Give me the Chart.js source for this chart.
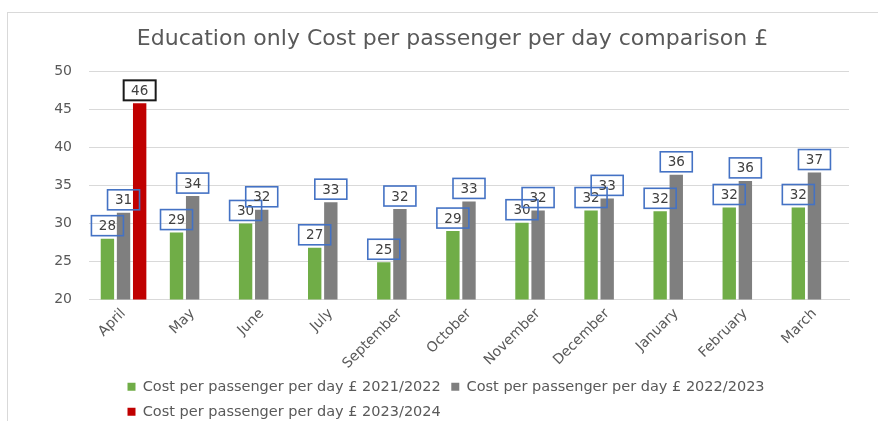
<!DOCTYPE html>
<html>
<head>
<meta charset="utf-8">
<script src="https://cdn.jsdelivr.net/npm/chart.js@4.4.1/dist/chart.umd.min.js"></script>
<style>
  body { margin: 0; overflow: hidden; background: #fff; }
  #wrap { position: relative; width: 878px; height: 421px; overflow: hidden; }
  #frame { position: absolute; left: 7px; top: 12px; width: 900px; height: 430px; border: 1px solid #d9d9d9; pointer-events: none; }
  canvas { position: absolute; left: 0; top: 0; }
</style>
</head>
<body>
<div id="wrap">
  <div id="frame"></div>
  <canvas id="chart" width="878" height="429"></canvas>
</div>
<script>
// values
const months = ['April', 'May', 'June', 'July', 'September', 'October', 'November', 'December', 'January', 'February', 'March'];
const fy2122 = [28.0, 28.8, 30.0, 26.8, 24.9, 29.0, 30.1, 31.7, 31.6, 32.1, 32.1];
const fy2223 = [31.4, 33.6, 31.8, 32.8, 31.9, 32.9, 31.7, 33.3, 36.4, 35.6, 36.7];
const fy2324 = [45.8, null, null, null, null, null, null, null, null, null, null];
const seriesNames = ['Cost per passenger per day £ 2021/2022', 'Cost per passenger per day £ 2022/2023', 'Cost per passenger per day £ 2023/2024'];

const barColors = ['#70AD47', '#7F7F7F', '#C00000'];
const labelBorders = ['#4472C4', '#4472C4', '#1a1a1a'];

Chart.defaults.font.family = '"DejaVu Sans", sans-serif';
Chart.defaults.color = '#595959';

// boxed value labels above each bar (Excel style)
const boxLabels = {
    id: 'boxLabels',
    afterDatasetsDraw(chart) {
        const ctx = chart.ctx;
        ctx.save();
        ctx.font = '13.5px "DejaVu Sans"';
        ctx.textAlign = 'center';
        ctx.textBaseline = 'middle';
        chart.data.datasets.forEach((ds, i) => {
            const meta = chart.getDatasetMeta(i);
            meta.data.forEach((bar, j) => {
                const v = ds.data[j];
                if (v == null) return;
                const w = 32, h = 20;
                const x = bar.x - w / 2;
                const y = bar.y - 3 - h;
                ctx.lineWidth = i === 2 ? 2 : 1.6;
                ctx.strokeStyle = labelBorders[i];
                ctx.strokeRect(x, y, w, h);
                ctx.fillStyle = '#404040';
                ctx.fillText(String(Math.round(v)), bar.x, y + h / 2 + 1);
            });
        });
        ctx.restore();
    }
};

// nudge legend rows in from the left edge, and the title a bit right
const boxShift = {
    id: 'boxShift',
    afterLayout(chart) {
        chart.legend.left += 117;
        chart.titleBlock.left += 28;
        chart.titleBlock.right += 28;
    }
};

new Chart(document.getElementById('chart').getContext('2d'), {
    type: 'bar',
    data: {
        labels: months,
        datasets: [
            { label: seriesNames[0], data: fy2122, backgroundColor: barColors[0] },
            { label: seriesNames[1], data: fy2223, backgroundColor: barColors[1] },
            { label: seriesNames[2], data: fy2324, backgroundColor: barColors[2] },
        ],
    },
    options: {
        responsive: false,
        animation: false,
        devicePixelRatio: 1,
        layout: { padding: { left: 0, right: 29, top: 0, bottom: 0 } },
        datasets: {
            bar: { categoryPercentage: 0.7, barPercentage: 0.83 }
        },
        scales: {
            x: {
                grid: { display: false, drawTicks: false },
                border: { display: true, color: '#d9d9d9' },
                ticks: {
                    autoSkip: false,
                    minRotation: 45,
                    maxRotation: 45,
                    padding: 6,
                    color: '#595959',
                    font: { size: 14 },
                },
                afterFit(scale) { scale.height = 69.5; },
            },
            y: {
                min: 20,
                max: 50,
                grid: { color: '#d9d9d9', drawTicks: false },
                border: { display: false },
                ticks: {
                    stepSize: 5,
                    padding: 17,
                    color: '#595959',
                    font: { size: 14 },
                },
                afterFit(scale) { scale.width = 89; },
            },
        },
        plugins: {
            title: {
                display: true,
                text: 'Education only Cost per passenger per day comparison £',
                color: '#595959',
                font: { size: 22, weight: 'normal' },
                padding: { top: 26, bottom: 19 },
            },
            legend: {
                position: 'bottom',
                align: 'start',
                labels: {
                    boxWidth: 8,
                    boxHeight: 8,
                    padding: 10.5,
                    color: '#595959',
                    font: { size: 14.5 },
                },
            },
            tooltip: { enabled: false },
        },
    },
    plugins: [boxLabels, boxShift],
});
</script>
</body>
</html>
